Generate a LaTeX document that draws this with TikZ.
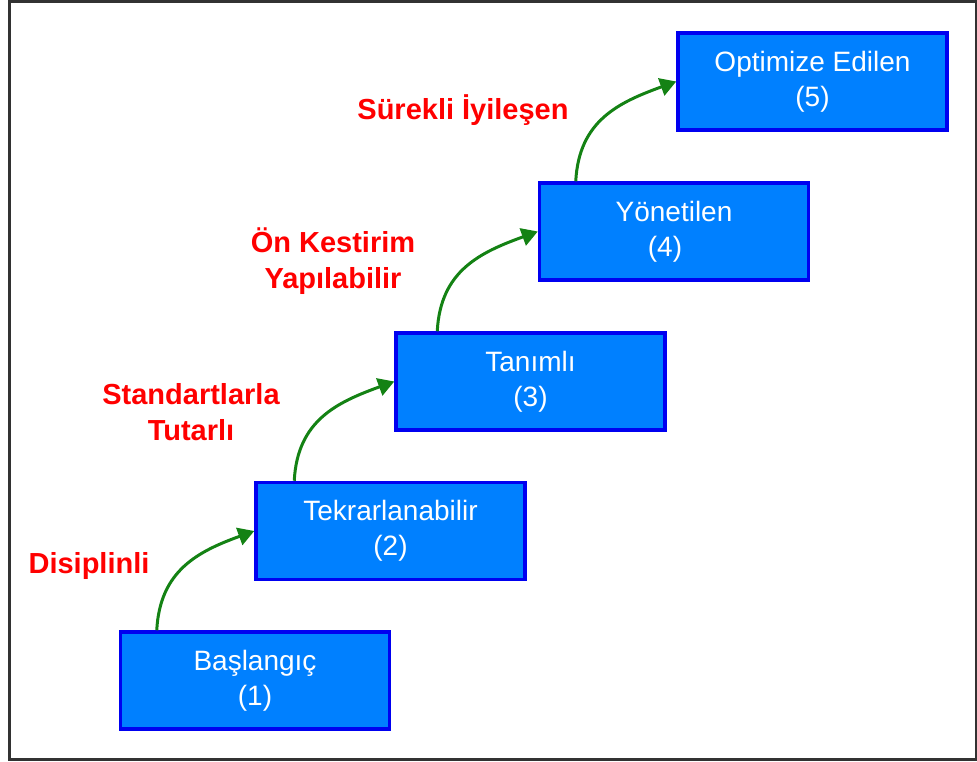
\documentclass[tikz,border=0pt]{standalone}
\usepackage{fontspec}
\setmainfont{Liberation Sans}
\usetikzlibrary{arrows.meta,calc}
\definecolor{boxfill}{RGB}{0,128,255}
\definecolor{boxline}{RGB}{0,0,240}
\definecolor{flowgreen}{RGB}{20,130,20}
\definecolor{framegray}{RGB}{50,50,50}
\begin{document}
\begin{tikzpicture}[x=1pt,y=1pt,
  levelbox/.style={draw=boxline, fill=boxfill, line width=3.5pt,
    minimum width=269pt, minimum height=97pt, inner sep=0pt,
    text=white, align=center,
    font=\fontsize{28}{35}\selectfont},
  steplabel/.style={text=red, align=center, inner sep=0pt,
    font=\fontsize{29}{36}\selectfont\bfseries},
  flow/.style={draw=flowgreen, line width=3pt,
    -{Triangle[length=16pt,width=18pt]}}]
\useasboundingbox (0,0) rectangle (977,762);
\draw[framegray, line width=3pt] (9,2) rectangle (976,760);

\node[levelbox] (b1) at (255,81.5) {Başlangıç\\(1)};
\node[levelbox] (b2) at (390.5,231) {Tekrarlanabilir\\(2)};
\node[levelbox] (b3) at (530.5,380.5) {Tanımlı\\(3)};
\node[levelbox] (b4) at (674,530.5) {Yönetilen\\(4)\hspace*{18pt}};
\node[levelbox] (b5) at (812.5,680.5) {Optimize Edilen\\(5)};

\node[steplabel] (l1) at (89,196) {Disiplinli};
\node[steplabel] (l2) at (191,350) {Standartlarla\\Tutarlı};
\node[steplabel] (l3) at (333,501) {Ön Kestirim\\Yapılabilir};
\node[steplabel] (l4) at (463,652) {Sürekli İyileşen};

\draw[flow] ([xshift=38pt]b1.north west) to[out=87,in=200,looseness=1.1] (b2.west);
\draw[flow] ([xshift=40pt]b2.north west) to[out=87,in=200,looseness=1.1] (b3.west);
\draw[flow] ([xshift=43pt]b3.north west) to[out=87,in=200,looseness=1.1] (b4.west);
\draw[flow] ([xshift=38pt]b4.north west) to[out=87,in=200,looseness=1.1] (b5.west);
\end{tikzpicture}
\end{document}
